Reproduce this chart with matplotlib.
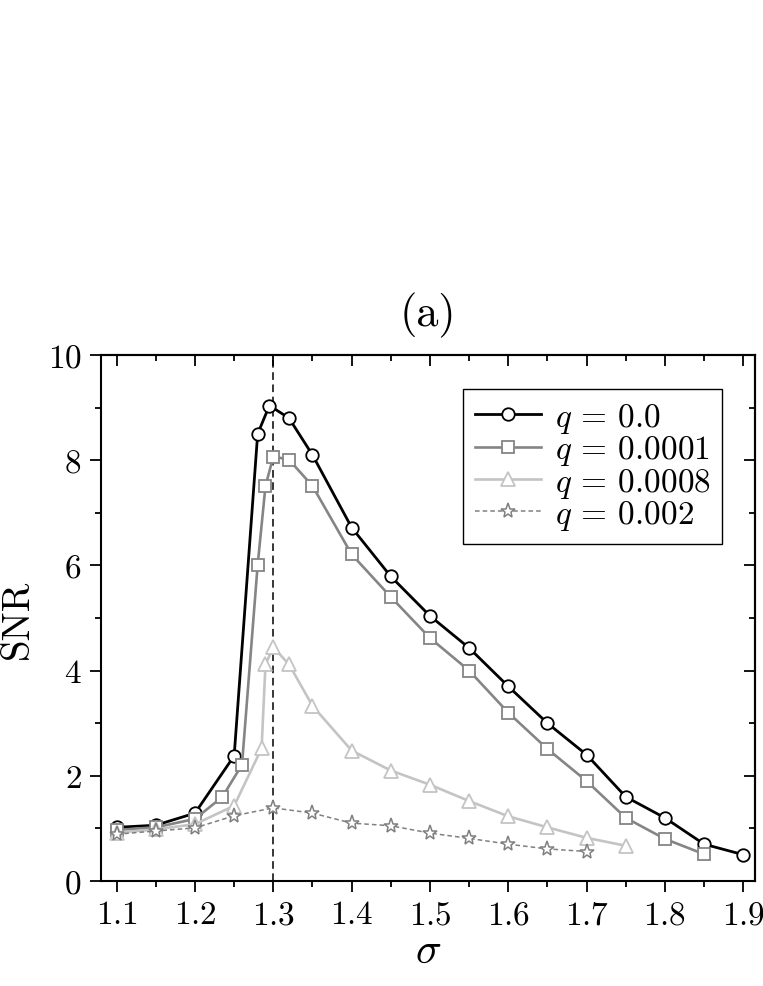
import matplotlib
matplotlib.use("Agg")
import matplotlib.pyplot as plt

plt.rcParams["font.family"] = "serif"
plt.rcParams["font.serif"] = ["cmr10", "DejaVu Serif"]
plt.rcParams["mathtext.fontset"] = "cm"
plt.rcParams["axes.formatter.use_mathtext"] = True

# q = 0.0
sig_q0 = [1.1, 1.15, 1.2, 1.25, 1.28, 1.295, 1.32, 1.35, 1.4, 1.45, 1.5,
          1.55, 1.6, 1.65, 1.7, 1.75, 1.8, 1.85, 1.9]
snr_q0 = [1.02, 1.06, 1.29, 2.38, 8.50, 9.04, 8.80, 8.10, 6.72, 5.79, 5.04,
          4.43, 3.70, 3.00, 2.40, 1.60, 1.20, 0.70, 0.50]

# q = 0.0001
sig_q1 = [1.1, 1.15, 1.2, 1.235, 1.26, 1.28, 1.29, 1.30, 1.32, 1.35, 1.4,
          1.45, 1.5, 1.55, 1.6, 1.65, 1.7, 1.75, 1.8, 1.85]
snr_q1 = [0.97, 1.02, 1.18, 1.60, 2.21, 6.01, 7.51, 8.07, 8.01, 7.51, 6.21,
          5.40, 4.62, 4.00, 3.20, 2.51, 1.90, 1.20, 0.80, 0.51]

# q = 0.0008
sig_q2 = [1.1, 1.15, 1.2, 1.25, 1.285, 1.29, 1.30, 1.32, 1.35, 1.4, 1.45,
          1.5, 1.55, 1.6, 1.65, 1.7, 1.75]
snr_q2 = [0.92, 0.98, 1.08, 1.43, 2.52, 4.12, 4.44, 4.12, 3.33, 2.48, 2.10,
          1.83, 1.52, 1.23, 1.02, 0.82, 0.67]

# q = 0.002
sig_q3 = [1.1, 1.15, 1.2, 1.25, 1.3, 1.35, 1.4, 1.45, 1.5, 1.55, 1.6, 1.65, 1.7]
snr_q3 = [0.89, 0.95, 1.01, 1.24, 1.39, 1.29, 1.10, 1.05, 0.91, 0.81, 0.70,
          0.61, 0.56]

labels = ["$q$ = 0.0", "$q$ = 0.0001", "$q$ = 0.0008", "$q$ = 0.002"]
sigma_c = 1.3

xmaj = [1.1, 1.2, 1.3, 1.4, 1.5, 1.6, 1.7, 1.8, 1.9]
xmin = [1.15, 1.25, 1.35, 1.45, 1.55, 1.65, 1.75, 1.85]
ymaj = [0, 2, 4, 6, 8, 10]
ymin = [1, 3, 5, 7, 9]

fig = plt.figure(figsize=(7.63, 9.87), dpi=100)
ax = fig.add_axes([0.1324, 0.1064, 0.8571, 0.5329])

ax.axvline(sigma_c, color="black", lw=1.1, ls=(0, (5, 3)), zorder=1)

ax.plot(sig_q0, snr_q0, color="black", lw=2.0, marker="o", ms=9,
        mfc="white", mec="black", mew=1.3, label=labels[0], zorder=3)
ax.plot(sig_q1, snr_q1, color="#858585", lw=1.9, marker="s", ms=8,
        mfc="white", mec="#858585", mew=1.3, label=labels[1], zorder=4)
ax.plot(sig_q2, snr_q2, color="#c4c4c4", lw=1.9, marker="^", ms=10,
        mfc="white", mec="#c4c4c4", mew=1.3, label=labels[2], zorder=5)
ax.plot(sig_q3, snr_q3, color="#808080", lw=1.1, ls=(0, (3, 2)), marker="*",
        ms=11, mfc="white", mec="#808080", mew=1.1, label=labels[3], zorder=6)

ax.set_xlim(1.08, 1.915)
ax.set_ylim(0, 10)
ax.set_xticks(xmaj)
ax.set_xticks(xmin, minor=True)
ax.set_yticks(ymaj)
ax.set_yticks(ymin, minor=True)

for s in ax.spines.values():
    s.set_linewidth(1.5)

ax.tick_params(which="both", direction="out", width=1.3, labelsize=24,
               top=False, right=False)
ax.tick_params(which="major", length=8, pad=6)
ax.tick_params(which="minor", length=4)

# inward ticks on the top and right edges
axt = ax.secondary_xaxis("top")
axt.set_xticks(xmaj)
axt.set_xticks(xmin, minor=True)
axt.tick_params(which="both", direction="in", width=1.3, labeltop=False)
axt.tick_params(which="major", length=8)
axt.tick_params(which="minor", length=4)
axt.spines["top"].set_linewidth(1.5)
axr = ax.secondary_yaxis("right")
axr.set_yticks(ymaj)
axr.set_yticks(ymin, minor=True)
axr.tick_params(which="both", direction="in", width=1.3, labelright=False)
axr.tick_params(which="major", length=8)
axr.tick_params(which="minor", length=4)
axr.spines["right"].set_linewidth(1.5)

ax.set_xlabel(r"$\sigma$", fontsize=31, labelpad=2)
ax.set_ylabel("SNR", fontsize=28)
ax.yaxis.set_label_coords(-0.100, 0.5)
ax.set_title("(a)", fontsize=32, pad=21)

leg = ax.legend(loc="upper right", bbox_to_anchor=(0.95, 0.935),
                borderaxespad=0, fontsize=24, fancybox=False, framealpha=1,
                edgecolor="black", handlelength=2.0, labelspacing=-0.05,
                borderpad=0.35, handletextpad=0.4)
leg.get_frame().set_linewidth(1.0)

fig.savefig("out.png", dpi=100)
